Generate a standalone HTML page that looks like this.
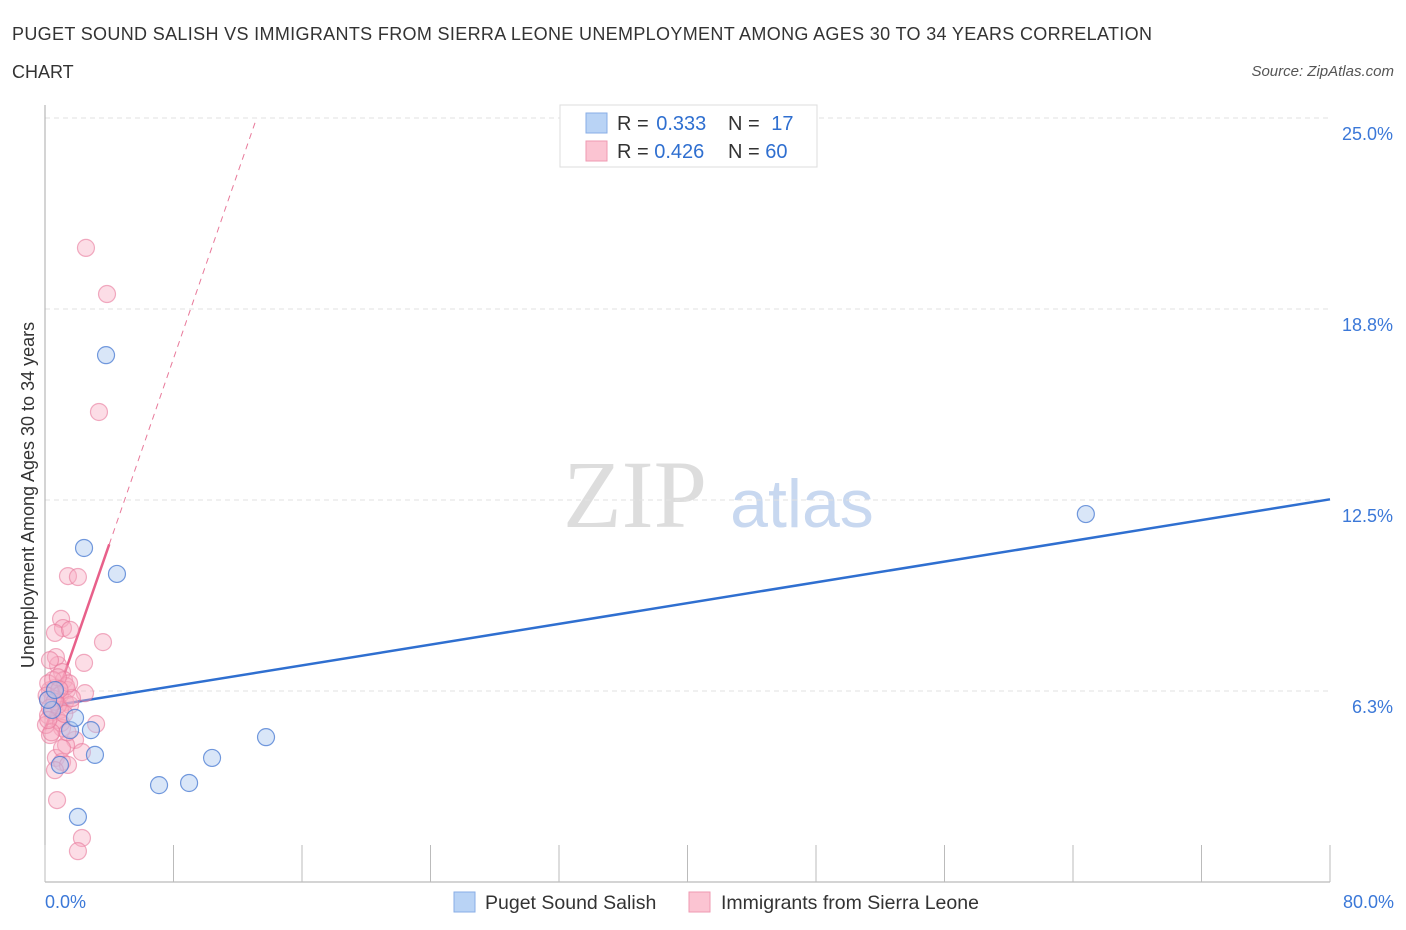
<!DOCTYPE html>
<html><head><meta charset="utf-8"><style>
body{margin:0;background:#fff;font-family:"Liberation Sans",sans-serif}
svg{display:block}
</style></head><body>
<svg id="c" width="1406" height="930" xmlns="http://www.w3.org/2000/svg">
<text x="12" y="40" font-size="18" fill="#333" textLength="1140">PUGET SOUND SALISH VS IMMIGRANTS FROM SIERRA LEONE UNEMPLOYMENT AMONG AGES 30 TO 34 YEARS CORRELATION</text>
<text x="12" y="78" font-size="18" fill="#333">CHART</text>
<text x="1394" y="76" font-size="15" fill="#555" font-style="italic" text-anchor="end">Source: ZipAtlas.com</text>
<g>
<text x="635" y="527" font-size="96" font-family="Liberation Serif,serif" fill="#ddd" text-anchor="middle">ZIP</text>
<text x="802" y="527" font-size="68" fill="#c8d8f0" text-anchor="middle">atlas</text>
</g>
<g id="grid"></g><g id="axes"></g><g id="lines"></g><g id="pts"></g>
<text transform="translate(34,495) rotate(-90)" font-size="18" fill="#333" text-anchor="middle">Unemployment Among Ages 30 to 34 years</text>
<g>
<rect x="560" y="105" width="257" height="62" fill="#fff" stroke="#ddd"/>
<rect x="586" y="113" width="21" height="20" fill="#b9d3f5" stroke="#88aee6"/>
<rect x="586" y="141" width="21" height="20" fill="#fbc4d2" stroke="#ef9ab2"/>
<text x="617" y="130" font-size="20" fill="#333">R = <tspan fill="#2f6fd0" dx="2">0.333</tspan></text>
<text x="728" y="130" font-size="20" fill="#333">N = <tspan fill="#2f6fd0" dx="6">17</tspan></text>
<text x="617" y="158" font-size="20" fill="#333">R = <tspan fill="#2f6fd0">0.426</tspan></text>
<text x="728" y="158" font-size="20" fill="#333">N = <tspan fill="#2f6fd0">60</tspan></text>
</g>
<g>
<rect x="454" y="892" width="21" height="20" fill="#b9d3f5" stroke="#88aee6"/>
<text x="485" y="909" font-size="19.5" fill="#333">Puget Sound Salish</text>
<rect x="689" y="892" width="21" height="20" fill="#fbc4d2" stroke="#ef9ab2"/>
<text x="721" y="909" font-size="19.5" fill="#333">Immigrants from Sierra Leone</text>
</g>
</svg>
<script>
const yTicks=[6.25,12.5,18.75,25];
const yTickLabels=["6.3%","12.5%","18.8%","25.0%"];
const xTickLabels=["0.0%","80.0%"];
const blueX=[3.8,2.43,4.48,64.8,13.76,10.4,8.97,7.1,3.11,2.86,1.56,1.87,0.93,2.05,0.44,0.19,0.62];
const blueY=[17.24,10.93,10.08,12.04,4.74,4.06,3.24,3.17,4.16,4.97,4.97,5.37,3.83,2.13,5.63,5.96,6.28];
const pinkX=[2.55,3.86,3.36,1.43,2.05,1.0,1.12,0.62,1.56,3.61,2.43,0.81,0.68,1.06,1.18,0.62,1.37,0.31,2.49,0.93,0.19,1.25,1.56,0.44,3.18,0.81,1.06,0.31,1.87,1.31,2.30,0.68,1.06,1.43,0.62,0.75,2.30,2.05,0.19,0.50,0.93,0.06,1.31,0.81,0.31,1.68,1.06,0.5,0.2,1.0,0.4,1.5,0.8,0.1,1.2,0.6,0.3,1.4,0.9,0.2];
const pinkY=[20.75,19.24,15.38,10.01,9.98,8.61,8.31,8.15,8.25,7.85,7.17,7.10,7.36,6.87,6.61,6.35,6.28,6.28,6.18,6.12,5.96,5.89,5.79,5.56,5.17,5.30,5.04,4.81,4.65,4.48,4.25,4.06,3.93,3.83,3.66,2.68,1.44,1.01,5.46,6.61,5.63,5.14,6.41,5.79,7.26,6.02,4.38,6.0,6.5,5.2,4.9,6.5,6.7,6.1,5.5,5.9,5.7,4.9,6.3,5.3];
const blueFit=[5.73,0.0849];
const pinkFit=[4.97,1.52];
const X=v=>45+v/80*1285, Y=v=>882-v/6.25*191;
const NS="http://www.w3.org/2000/svg";
function mk(p,t,a){const e=document.createElementNS(NS,t);for(const k in a)e.setAttribute(k,a[k]);document.getElementById(p).appendChild(e);return e;}
yTicks.forEach((t,i)=>{
 const g=mk('grid','line',{x1:45,x2:1330,y1:Y(t),y2:Y(t),stroke:'#e2e2e2','stroke-dasharray':'5,4'});
 
 
 const l=mk('grid','text',{x:1393,y:Y(t)+22,'font-size':18,fill:'#3b78d8','text-anchor':'end'});
 l.textContent=yTickLabels[i];
 
 
});
let a=mk('axes','line',{x1:45,x2:45,y1:105,y2:882,stroke:'#aaa'});


a=mk('axes','line',{x1:45,x2:1330,y1:882,y2:882,stroke:'#aaa'});


for(let i=0;i<=10;i++){const tk=mk('axes','line',{x1:X(i*8),x2:X(i*8),y1:845,y2:882,stroke:'#bbb'});
 
 }
[[0,'start',45],[80,'end',1394]].forEach((d,i)=>{const t=mk('axes','text',{x:d[2],y:908,'font-size':18,fill:'#3b78d8','text-anchor':d[1]});t.textContent=xTickLabels[i];
 
 });
let ln=mk('lines','line',{x1:X(0),y1:Y(blueFit[0]),x2:X(80),y2:Y(blueFit[0]+80*blueFit[1]),stroke:'#2f6fd0','stroke-width':2.5});


const xe=(25-pinkFit[0])/pinkFit[1];
ln=mk('lines','line',{x1:X(4),y1:Y(pinkFit[0]+4*pinkFit[1]),x2:X(xe),y2:Y(25),stroke:'#e8799a','stroke-width':1,'stroke-dasharray':'6,5'});


ln=mk('lines','line',{x1:X(0),y1:Y(pinkFit[0]),x2:X(4),y2:Y(pinkFit[0]+4*pinkFit[1]),stroke:'#e8608a','stroke-width':2.5});


pinkX.forEach((v,i)=>{const c=mk('pts','circle',{cx:X(v),cy:Y(pinkY[i]),r:8.5,fill:'rgba(248,170,192,0.4)',stroke:'rgba(232,120,155,0.6)','stroke-width':1.2});
 
 });
blueX.forEach((v,i)=>{const c=mk('pts','circle',{cx:X(v),cy:Y(blueY[i]),r:8.5,fill:'rgba(170,200,240,0.45)',stroke:'rgba(70,120,210,0.75)','stroke-width':1.2});
 
 });
</script>
</body></html>
